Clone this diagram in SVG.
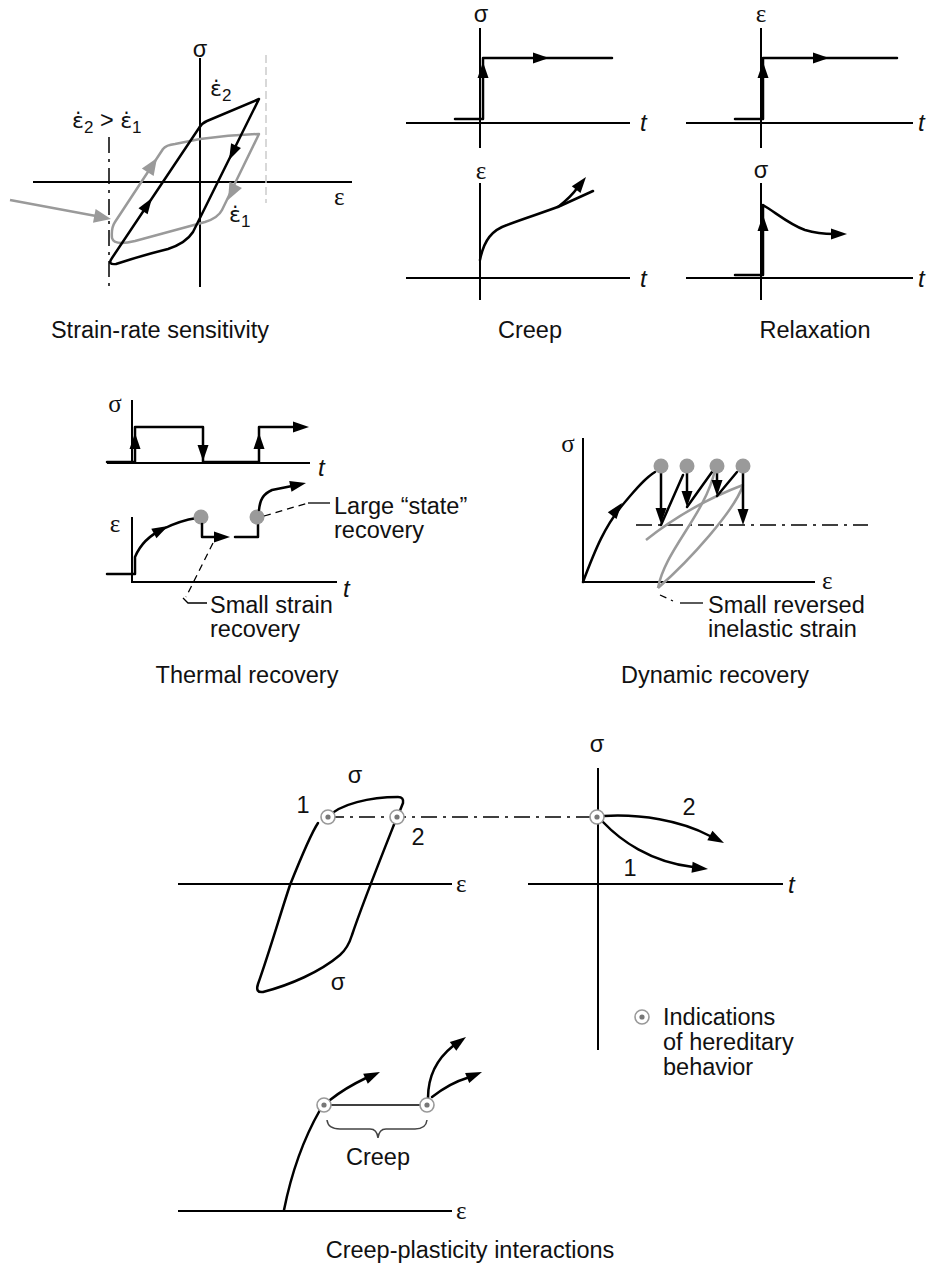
<svg xmlns="http://www.w3.org/2000/svg" xmlns:xlink="http://www.w3.org/1999/xlink" width="932" height="1264" viewBox="0 0 932 1264">
<style>
.ln{fill:none;stroke:#000;stroke-width:2.5;stroke-linecap:round;stroke-linejoin:round}
.ax{fill:none;stroke:#000;stroke-width:2}
.gr{fill:none;stroke:#9a9a9a;stroke-width:2.5;stroke-linejoin:round}
.dd{fill:none;stroke:#000;stroke-width:1.5;stroke-dasharray:16 6 3 6}
.dsh{fill:none;stroke:#000;stroke-width:1.3;stroke-dasharray:7 5}
.sol{fill:none;stroke:#000;stroke-width:1.3}
.t{font-family:"Liberation Sans",Arial,sans-serif;font-size:23.5px;fill:#111}
.c{text-anchor:middle}
.g{font-family:"Liberation Serif","Times New Roman",serif;font-size:25px;fill:#111}
.i{font-family:"Liberation Sans",Arial,sans-serif;font-size:24px;font-style:italic;fill:#111}
.ed{font-family:"DejaVu Sans",sans-serif;font-size:22px}
.dot{fill:#9a9a9a}
</style>
<defs>
<path id="ah" d="M0,0 L-16,-5.5 L-16,5.5 Z" fill="#000"/>
<path id="ahg" d="M0,0 L-17,-7 L-17,7 Z" fill="#9a9a9a"/>
<g id="hc"><circle r="7" fill="#fff" stroke="#999" stroke-width="1.6"/><circle r="2.6" fill="#777"/></g>
</defs>

<g id="strain-rate">
<path class="ax" d="M200,58 V287 M33,182 H352"/>
<path class="dd" d="M109,137 V287"/>
<path d="M266,55 V203" fill="none" stroke="#ccc" stroke-width="1.5" stroke-dasharray="8 4"/>
<text class="t c" x="200" y="57">σ</text>
<text class="g" x="334" y="205">ε</text>
<text class="t" x="72" y="128"><tspan class="ed">ε̇</tspan><tspan font-size="17" dy="5">2</tspan><tspan dy="-5"> &gt; </tspan><tspan class="ed">ε̇</tspan><tspan font-size="17" dy="5">1</tspan></text>
<text class="t" x="210" y="96"><tspan class="ed">ε̇</tspan><tspan font-size="17" dy="5">2</tspan></text>
<text class="t" x="229" y="222"><tspan class="ed">ε̇</tspan><tspan font-size="17" dy="5">1</tspan></text>
<path class="gr" d="M115,222 L163,149 Q166,145 175,144 L200,139 Q230,135 259,134 L222,210 Q218,218 205,222 L135,241 Q114,246 112,238 Q111,228 115,222 Z"/>
<path class="ln" d="M112,258 L199,128 Q202,123 207,121 L259,99 L193,232 Q186,243 168,249 Q140,256 116,264 Q107,265 112,258 Z"/>
<use xlink:href="#ah" transform="translate(152,198) rotate(-56)"/>
<use xlink:href="#ah" transform="translate(229,160) rotate(116)"/>
<use xlink:href="#ahg" transform="translate(157,158) rotate(-57)"/>
<use xlink:href="#ahg" transform="translate(228,200) rotate(117)"/>
<path d="M10,200 L96,216" fill="none" stroke="#9a9a9a" stroke-width="2.5"/>
<use xlink:href="#ahg" transform="translate(111,219) rotate(10.8)"/>
<text class="t c" x="160" y="338">Strain-rate sensitivity</text>
</g>

<g id="creep">
<path class="ax" d="M480,28 V148 M406,123 H630"/>
<text class="t c" x="481" y="22">σ</text>
<text class="i" x="640" y="131">t</text>
<path class="ln" d="M455,119 H483 V58 H612" stroke-linecap="butt"/>
<use xlink:href="#ah" transform="translate(483,62) rotate(-90)"/>
<use xlink:href="#ah" transform="translate(549,58)"/>
<path class="ax" d="M480,183 V300 M406,278 H630"/>
<text class="g c" x="481" y="179">ε</text>
<text class="i" x="640" y="287">t</text>
<path class="ln" d="M480,260 C484,240 492,230 507,225 C525,218 545,212 560,206 L593,191"/>
<path class="ln" d="M558,207 Q571,197 578,187"/>
<use xlink:href="#ah" transform="translate(586,177) rotate(-52)"/>
<text class="t c" x="530" y="338">Creep</text>
</g>

<g id="relaxation">
<path class="ax" d="M761,28 V148 M686,123 H913"/>
<text class="g c" x="761" y="22">ε</text>
<text class="i" x="918" y="131">t</text>
<path class="ln" d="M735,119 H763 V58 H897" stroke-linecap="butt"/>
<use xlink:href="#ah" transform="translate(763,62) rotate(-90)"/>
<use xlink:href="#ah" transform="translate(829,58)"/>
<path class="ax" d="M761,183 V300 M686,278 H913"/>
<text class="t c" x="761" y="178">σ</text>
<text class="i" x="918" y="287">t</text>
<path class="ln" d="M735,275 H763 V205 C775,212 790,225 805,230 C815,233 825,234 834,234" stroke-linecap="butt"/>
<use xlink:href="#ah" transform="translate(763,215) rotate(-90)"/>
<use xlink:href="#ah" transform="translate(847,234)"/>
<text class="t c" x="815" y="338">Relaxation</text>
</g>

<g id="thermal-recovery">
<path class="ax" d="M132,400 V463 M107,463 H310"/>
<text class="g c" x="115" y="412">σ</text>
<text class="i" x="318" y="476">t</text>
<path class="ln" d="M107,462 H135 V427 H203 V462 H259 V427 H298" stroke-linecap="butt"/>
<use xlink:href="#ah" transform="translate(135,433) rotate(-90)"/>
<use xlink:href="#ah" transform="translate(203,461) rotate(90)"/>
<use xlink:href="#ah" transform="translate(259,433) rotate(-90)"/>
<use xlink:href="#ah" transform="translate(309,427)"/>
<path class="ax" d="M132,517 V582 H337"/>
<text class="g c" x="115" y="532">ε</text>
<text class="i" x="343" y="597">t</text>
<path class="ln" d="M107,574 H135 V557 C140,545 150,535 163,529 C175,523 190,519 197,518" stroke-linecap="butt"/>
<use xlink:href="#ah" transform="translate(168,526) rotate(-28)"/>
<circle class="dot" cx="201" cy="517" r="7.5"/>
<path class="ln" d="M202,524 V537 H216" stroke-linecap="butt"/>
<use xlink:href="#ah" transform="translate(230,537)"/>
<path class="ln" d="M235,537 H258 V524" stroke-linecap="butt"/>
<circle class="dot" cx="257" cy="517" r="7.5"/>
<path class="ln" d="M259,510 C260,500 263,494 272,490 L292,486"/>
<use xlink:href="#ah" transform="translate(306,483) rotate(-12)"/>
<path class="dsh" d="M264,516 L308,503"/>
<path class="sol" d="M308,503 L330,503"/>
<text class="t" x="334" y="514">Large “state”</text>
<text class="t" x="334" y="538">recovery</text>
<path class="dsh" d="M213,543 L186,597"/>
<path class="sol" d="M183,598 L188,603 L207,603"/>
<text class="t" x="210" y="613">Small strain</text>
<text class="t" x="210" y="637">recovery</text>
<text class="t c" x="247" y="683">Thermal recovery</text>
</g>

<g id="dynamic-recovery">
<path class="ax" d="M583,438 V582 H815"/>
<text class="g c" x="568" y="452">σ</text>
<text class="g" x="822" y="589">ε</text>
<path class="ln" d="M583,582 C595,550 605,525 625,502 C635,490 645,478 655,472"/>
<use xlink:href="#ah" transform="translate(622,503) rotate(-52)"/>
<path class="dd" d="M636,525 H868"/>
<path class="gr" d="M646,540 Q690,505 743,485"/>
<path class="gr" d="M743,485 C735,510 690,560 658,588"/>
<path class="gr" d="M658,588 C665,550 705,515 715,470"/>
<path class="ln" d="M661,473 V508" stroke-linecap="butt"/>
<use xlink:href="#ah" transform="translate(661,524) rotate(90)"/>
<path class="ln" d="M661,525 L683,475"/>
<path class="ln" d="M687,473 V492" stroke-linecap="butt"/>
<use xlink:href="#ah" transform="translate(687,507) rotate(90)"/>
<path class="ln" d="M687,507 L712,472"/>
<path class="ln" d="M717,473 V482" stroke-linecap="butt"/>
<use xlink:href="#ah" transform="translate(717,496) rotate(90)"/>
<path class="ln" d="M717,496 L737,472"/>
<path class="ln" d="M743,473 V509" stroke-linecap="butt"/>
<use xlink:href="#ah" transform="translate(743,525) rotate(90)"/>
<circle class="dot" cx="661" cy="466" r="7.5"/>
<circle class="dot" cx="687" cy="466" r="7.5"/>
<circle class="dot" cx="717" cy="466" r="7.5"/>
<circle class="dot" cx="743" cy="466" r="7.5"/>
<path class="dsh" d="M660,595 L673,601"/>
<path class="sol" d="M680,603 L703,603"/>
<text class="t" x="708" y="613">Small reversed</text>
<text class="t" x="708" y="637">inelastic strain</text>
<text class="t c" x="715" y="683">Dynamic recovery</text>
</g>

<g id="creep-plasticity">
<path class="ax" d="M178,884 H452"/>
<text class="g" x="456" y="892">ε</text>
<text class="t c" x="355" y="783">σ</text>
<text class="t c" x="303" y="813">1</text>
<text class="t c" x="418" y="845">2</text>
<text class="t c" x="338" y="990">σ</text>
<path class="ln" d="M318,823 C310,835 300,860 290,885 C280,915 270,950 258,984 Q255,993 263,992 C290,985 320,972 340,955 Q348,948 352,935 C362,905 380,860 397,817"/>
<path class="ln" d="M328,817 C340,804 370,797 398,797 Q404,797 403,803 L399,813"/>
<path class="dd" d="M328,817 H597"/>
<path class="ax" d="M598,768 V1050 M528,884 H783"/>
<text class="t c" x="597" y="752">σ</text>
<text class="i" x="788" y="893">t</text>
<path class="ln" d="M604,816 C640,814 680,820 710,836"/>
<use xlink:href="#ah" transform="translate(724,843) rotate(28)"/>
<path class="ln" d="M603,822 C620,840 650,862 693,867"/>
<use xlink:href="#ah" transform="translate(708,869) rotate(6)"/>
<text class="t c" x="689" y="815">2</text>
<text class="t c" x="630" y="876">1</text>
<use xlink:href="#hc" x="328" y="817"/>
<use xlink:href="#hc" x="397" y="817"/>
<use xlink:href="#hc" x="597" y="817"/>
<use xlink:href="#hc" x="642" y="1017"/>
<text class="t" x="663" y="1025">Indications</text>
<text class="t" x="663" y="1050">of hereditary</text>
<text class="t" x="663" y="1075">behavior</text>
<path class="ax" d="M178,1211 H452"/>
<text class="g" x="456" y="1219">ε</text>
<path class="ln" d="M284,1210 C290,1180 300,1145 320,1110"/>
<path class="sol" d="M324,1105 H427" stroke-width="1.8"/>
<path class="ln" d="M330,1100 Q345,1088 366,1078"/>
<use xlink:href="#ah" transform="translate(380,1072) rotate(-25)"/>
<path class="ln" d="M428,1098 C428,1075 438,1058 453,1046"/>
<use xlink:href="#ah" transform="translate(466,1037) rotate(-36)"/>
<path class="ln" d="M432,1097 Q450,1083 467,1078"/>
<use xlink:href="#ah" transform="translate(482,1072) rotate(-22)"/>
<use xlink:href="#hc" x="324" y="1105"/>
<use xlink:href="#hc" x="427" y="1105"/>
<path d="M327,1120 Q328,1129 340,1129 H370 Q377,1129 378,1138 Q379,1129 386,1129 H415 Q426,1129 427,1120" fill="none" stroke="#444" stroke-width="1.5"/>
<text class="t c" x="378" y="1165">Creep</text>
<text class="t c" x="470" y="1258">Creep-plasticity interactions</text>
</g>
</svg>
